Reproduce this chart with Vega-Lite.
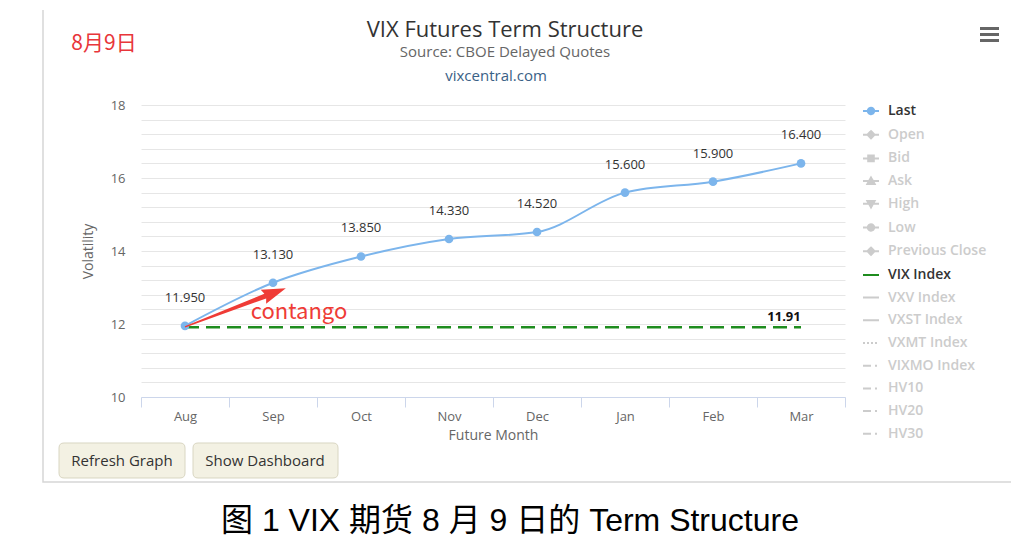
{
  "$schema": "https://vega.github.io/schema/vega-lite/v6.json",
  "width": 704,
  "height": 292,
  "autosize": {"type": "none"},
  "padding": {"left": 141, "top": 105, "right": 179, "bottom": 155},
  "background": "white",
  "config": {"view": {"stroke": null}, "font": "Open Sans"},
  "title": {
    "text": "VIX Futures Term Structure",
    "subtitle": "Source: CBOE Delayed Quotes",
    "anchor": "middle",
    "frame": "group",
    "dx": 12,
    "offset": -54,
    "font": "Open Sans",
    "fontSize": 22,
    "fontWeight": "normal",
    "color": "#333333",
    "subtitleFont": "Open Sans",
    "subtitleFontSize": 15,
    "subtitleColor": "#666666",
    "subtitlePadding": 3
  },
  "datasets": {
    "series": [
      {"month": "Aug", "series": "Last", "value": 11.95},
      {"month": "Sep", "series": "Last", "value": 13.13},
      {"month": "Oct", "series": "Last", "value": 13.85},
      {"month": "Nov", "series": "Last", "value": 14.33},
      {"month": "Dec", "series": "Last", "value": 14.52},
      {"month": "Jan", "series": "Last", "value": 15.6},
      {"month": "Feb", "series": "Last", "value": 15.9},
      {"month": "Mar", "series": "Last", "value": 16.4},
      {"month": "Aug", "series": "VIX Index", "value": 11.91},
      {"month": "Sep", "series": "VIX Index", "value": 11.91},
      {"month": "Oct", "series": "VIX Index", "value": 11.91},
      {"month": "Nov", "series": "VIX Index", "value": 11.91},
      {"month": "Dec", "series": "VIX Index", "value": 11.91},
      {"month": "Jan", "series": "VIX Index", "value": 11.91},
      {"month": "Feb", "series": "VIX Index", "value": 11.91},
      {"month": "Mar", "series": "VIX Index", "value": 11.91}
    ]
  },
  "encoding": {
    "x": {
      "field": "month",
      "type": "nominal",
      "sort": null,
      "scale": {"domain": ["Aug", "Sep", "Oct", "Nov", "Dec", "Jan", "Feb", "Mar"], "paddingInner": 0, "paddingOuter": 0},
      "axis": {
        "title": "Future Month",
        "labelAngle": 0,
        "tickBand": "extent",
        "tickSize": 10,
        "tickColor": "#ccd6eb",
        "domainColor": "#ccd6eb",
        "grid": false,
        "labelColor": "#666666",
        "labelFontSize": 13,
        "labelPadding": 3,
        "labelDx": -12,
        "titleColor": "#666666",
        "titleFontSize": 14,
        "titleFontWeight": "normal",
        "titlePadding": 5
      }
    },
    "y": {
      "field": "value",
      "type": "quantitative",
      "scale": {"domain": [10, 18], "nice": false, "zero": false},
      "axis": {
        "title": "Volatility",
        "values": [10, 10.4, 10.8, 11.2, 11.6, 12, 12.4, 12.8, 13.2, 13.6, 14, 14.4, 14.8, 15.2, 15.6, 16, 16.4, 16.8, 17.2, 17.6, 18],
        "format": ".0f",
        "labelExpr": "datum.value % 2 == 0 ? datum.label : ''",
        "labelOverlap": false,
        "ticks": false,
        "domain": false,
        "gridColor": "#e6e6e6",
        "gridWidth": 1,
        "labelColor": "#666666",
        "labelFontSize": 13,
        "labelPadding": 16,
        "titleColor": "#666666",
        "titleFontSize": 14,
        "titleFontWeight": "normal",
        "titlePadding": 15
      }
    }
  },
  "layer": [
    {
      "data": {"values": [{"month": "Aug", "value": 8.247}]},
      "mark": {"type": "point", "shape": "M-1.42,-4.51V0.21H8.26", "size": 40000, "filled": false, "stroke": "#d6d6d6", "strokeWidth": 1.5, "opacity": 1}
    },
    {
      "data": {"values": [{"month": "Aug", "value": 8.247}]},
      "mark": {"type": "point", "shape": "M-1.21,-0.18H-0.05Q0,-0.18,0,-0.13V0.12Q0,0.17,-0.05,0.17H-1.21Q-1.26,0.17,-1.26,0.12V-0.13Q-1.26,-0.18,-1.21,-0.18ZM0.13,-0.18H1.48Q1.53,-0.18,1.53,-0.13V0.12Q1.53,0.17,1.48,0.17H0.13Q0.08,0.17,0.08,0.12V-0.13Q0.08,-0.18,0.13,-0.18Z", "size": 40000, "filled": true, "fill": "#f3f1e3", "stroke": "#d9d6c2", "strokeWidth": 1, "opacity": 1}
    },
    {
      "data": {"name": "series"},
      "transform": [{"filter": "datum.series === 'VIX Index'"}],
      "mark": {"type": "line", "strokeDash": [14, 7], "strokeWidth": 2.5},
      "encoding": {
        "color": {
          "field": "series",
          "type": "nominal",
          "scale": {
            "domain": ["Last", "Open", "Bid", "Ask", "High", "Low", "Previous Close", "VIX Index", "VXV Index", "VXST Index", "VXMT Index", "VIXMO Index", "HV10", "HV20", "HV30"],
            "range": ["#7cb5ec", "#cccccc", "#cccccc", "#cccccc", "#cccccc", "#cccccc", "#cccccc", "#1e8c1e", "#cccccc", "#cccccc", "#cccccc", "#cccccc", "#cccccc", "#cccccc", "#cccccc"]
          }
        }
      }
    },
    {
      "data": {"name": "series"},
      "transform": [{"filter": "datum.series === 'Last'"}],
      "mark": {"type": "line", "interpolate": "monotone", "strokeWidth": 2},
      "encoding": {
        "color": {
          "field": "series",
          "type": "nominal",
          "scale": {
            "domain": ["Last", "Open", "Bid", "Ask", "High", "Low", "Previous Close", "VIX Index", "VXV Index", "VXST Index", "VXMT Index", "VIXMO Index", "HV10", "HV20", "HV30"],
            "range": ["#7cb5ec", "#cccccc", "#cccccc", "#cccccc", "#cccccc", "#cccccc", "#cccccc", "#1e8c1e", "#cccccc", "#cccccc", "#cccccc", "#cccccc", "#cccccc", "#cccccc", "#cccccc"]
          },
          "legend": {
            "title": null,
            "orient": "none",
            "legendX": 721,
            "legendY": -3,
            "symbolSize": 256,
            "symbolStrokeWidth": 2,
            "labelFont": "Open Sans",
            "labelFontSize": 14,
            "labelFontWeight": 600,
            "labelOffset": 8,
            "rowPadding": 6.7,
            "padding": 0,
            "encode": {
              "symbols": {
                "update": {
                  "shape": {"signal": "datum.value === 'Last' || datum.value === 'Low' ? 'M-1,0H1M-0.4,0A0.4,0.4,0,1,1,0.4,0A0.4,0.4,0,1,1,-0.4,0Z' : (datum.value === 'Open' || datum.value === 'Previous Close') ? 'M-1,0H1M0,-0.45L0.45,0L0,0.45L-0.45,0Z' : datum.value === 'Bid' ? 'M-1,0H1M-0.35,-0.35H0.35V0.35H-0.35Z' : datum.value === 'Ask' ? 'M-1,0H1M0,-0.45L0.45,0.35L-0.45,0.35Z' : datum.value === 'High' ? 'M-1,0H1M0,0.45L0.45,-0.35L-0.45,-0.35Z' : 'M-1,0H1'"},
                  "fill": {"signal": "indexof(['Last','Open','Bid','Ask','High','Low','Previous Close'], datum.value) >= 0 ? scale('color', datum.value) : 'transparent'"},
                  "stroke": {"signal": "scale('color', datum.value)"},
                  "strokeDash": {"signal": "datum.value === 'VXMT Index' ? [2, 2] : indexof(['VIXMO Index','HV10','HV20','HV30'], datum.value) >= 0 ? [8, 4, 2, 4] : [1, 0]"},
                  "opacity": {"value": 1}
                }
              },
              "labels": {
                "update": {
                  "fill": {"signal": "datum.value === 'Last' || datum.value === 'VIX Index' ? '#333333' : '#cccccc'"}
                }
              }
            }
          }
        }
      }
    },
    {
      "data": {"name": "series"},
      "transform": [{"filter": "datum.series === 'Last'"}],
      "mark": {"type": "point", "filled": true, "size": 75, "color": "#7cb5ec", "opacity": 1}
    },
    {
      "data": {"name": "series"},
      "transform": [{"filter": "datum.series === 'Last'"}],
      "mark": {"type": "text", "dy": -28, "fontSize": 13, "color": "#333333", "font": "Open Sans"},
      "encoding": {"text": {"field": "value", "type": "quantitative", "format": ".3f"}}
    },
    {
      "data": {"name": "series"},
      "transform": [{"filter": "datum.series === 'VIX Index' && datum.month === 'Mar'"}],
      "mark": {"type": "text", "dy": -10, "dx": -17, "fontSize": 13, "fontWeight": "bold", "color": "#111111", "font": "Open Sans"},
      "encoding": {"text": {"field": "value", "type": "quantitative", "format": ".2f"}}
    },
    {
      "data": {"values": [{"month": "Aug", "value": 11.92}]},
      "mark": {"type": "point", "shape": "M0,-0.006L0.86,-0.025L0.84,-0.075L1.08,0L0.84,0.075L0.86,0.025L0,0.006Z", "size": 40000, "angle": -21, "filled": true, "fill": "#ef3b36", "strokeWidth": 0, "opacity": 1}
    },
    {
      "data": {"values": [{"month": "Mar", "value": 19.932}]},
      "mark": {"type": "point", "shape": "M17.9,-0.75H19.8V-0.45H17.9ZM17.9,-0.15H19.8V0.15H17.9ZM17.9,0.45H19.8V0.75H17.9Z", "size": 400, "filled": true, "fill": "#666666", "strokeWidth": 0, "opacity": 1}
    },
    {
      "data": {"values": [{"month": "Aug", "value": 19.671, "text": "8月9日"}]},
      "mark": {"type": "text", "dx": -81, "fontSize": 21, "font": "Noto Sans CJK SC", "color": "#e8363a", "baseline": "middle"},
      "encoding": {"text": {"field": "text"}}
    },
    {
      "data": {"values": [{"month": "Sep", "value": 12.33, "text": "contango"}]},
      "mark": {"type": "text", "dx": 26, "fontSize": 22, "font": "Noto Sans CJK SC", "color": "#ef3b36", "baseline": "middle"},
      "encoding": {"text": {"field": "text"}}
    },
    {
      "data": {"values": [{"month": "Nov", "value": 18.795, "text": "vixcentral.com"}]},
      "mark": {"type": "text", "dx": 47, "fontSize": 15, "font": "Open Sans", "color": "#3a6186", "baseline": "middle"},
      "encoding": {"text": {"field": "text"}}
    },
    {
      "data": {"values": [{"month": "Aug", "value": 8.247, "text": "Refresh Graph"}]},
      "mark": {"type": "text", "dx": -63, "fontSize": 15, "font": "Open Sans", "color": "#333333", "baseline": "middle"},
      "encoding": {"text": {"field": "text"}}
    },
    {
      "data": {"values": [{"month": "Sep", "value": 8.247, "text": "Show Dashboard"}]},
      "mark": {"type": "text", "dx": -8, "fontSize": 15, "font": "Open Sans", "color": "#333333", "baseline": "middle"},
      "encoding": {"text": {"field": "text"}}
    },
    {
      "data": {"values": [{"month": "Nov", "value": 6.603, "text": "图 1 VIX 期货 8 月 9 日的 Term Structure"}]},
      "mark": {"type": "text", "dx": 61, "fontSize": 32, "font": "Liberation Sans, Noto Sans CJK SC", "color": "#000000", "baseline": "middle"},
      "encoding": {"text": {"field": "text"}}
    }
  ]
}
